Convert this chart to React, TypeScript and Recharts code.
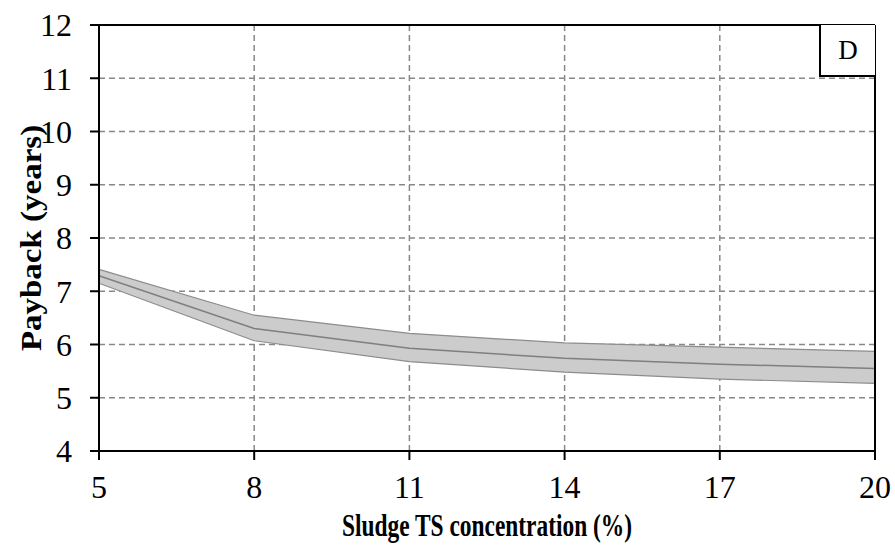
import React from "react";
import { ComposedChart, Area, Line, XAxis, YAxis, CartesianGrid, ReferenceLine } from "recharts";

// Payback vs sludge TS concentration, mean line with a shaded uncertainty band.
const tsConcentration = [5, 8, 11, 14, 17, 20];
const paybackMid = [7.29, 6.3, 5.93, 5.74, 5.63, 5.55];
const paybackLow = [7.15, 6.07, 5.68, 5.48, 5.35, 5.27];
const paybackHigh = [7.41, 6.55, 6.21, 6.03, 5.95, 5.87];
const xTicks = [5, 8, 11, 14, 17, 20];
const yTicks = [4, 5, 6, 7, 8, 9, 10, 11, 12];

const data = tsConcentration.map((x, i) => ({
  x,
  mid: paybackMid[i],
  band: [paybackLow[i], paybackHigh[i]],
}));

const FONT = "'Liberation Serif', 'Times New Roman', serif";
const tickStyle = { fill: "#000", fontSize: 32, fontFamily: FONT };

// the source image is stretched vertically, so the titles get a non-uniform scale
function YLabel(props: any) {
  const vb = props.viewBox || {};
  const cx = vb.x + 41;
  const cy = vb.y + vb.height / 2;
  return (
    <text
      transform={`translate(${cx} ${cy}) rotate(-90) scale(1.1 1)`}
      x={0}
      y={0}
      textAnchor="middle"
      fontFamily={FONT}
      fontWeight="bold"
      fontSize={30}
      fill="#000"
    >
      Payback (years)
    </text>
  );
}

function XLabel(props: any) {
  const vb = props.viewBox || {};
  const cx = vb.x + vb.width / 2;
  return (
    <text
      transform={`translate(${cx} ${vb.y + 85}) scale(0.9 1.22)`}
      x={0}
      y={0}
      textAnchor="middle"
      fontFamily={FONT}
      fontWeight="bold"
      fontSize={26}
      fill="#000"
    >
      Sludge TS concentration (%)
    </text>
  );
}

export default function App() {
  return (
    <div style={{ position: "absolute", left: 0, top: 0, width: 895, height: 545, background: "#fff" }}>
      <ComposedChart width={895} height={545} data={data} margin={{ top: 25, right: 20, bottom: 0, left: 0 }}>
        <CartesianGrid xAxisId="b" yAxisId="l" stroke="#888" strokeWidth={1.5} strokeDasharray="6 4" />
        <XAxis
          xAxisId="b"
          dataKey="x"
          type="number"
          domain={[5, 20]}
          ticks={xTicks}
          height={94}
          tickSize={9}
          tickMargin={15}
          tick={tickStyle}
          axisLine={{ stroke: "#000", strokeWidth: 2 }}
          tickLine={{ stroke: "#000", strokeWidth: 2 }}
          label={<XLabel />}
        />
        <YAxis
          yAxisId="l"
          type="number"
          domain={[4, 12]}
          ticks={yTicks}
          width={99}
          tickSize={9}
          tickMargin={18}
          tick={tickStyle}
          axisLine={{ stroke: "#000", strokeWidth: 2 }}
          tickLine={{ stroke: "#000", strokeWidth: 2 }}
          label={<YLabel />}
        />
        <Area
          xAxisId="b"
          yAxisId="l"
          dataKey="band"
          type="linear"
          fill="#cccccc"
          fillOpacity={1}
          stroke="#8c8c8c"
          strokeWidth={1.2}
          isAnimationActive={false}
          activeDot={false}
          dot={false}
        />
        <Line
          xAxisId="b"
          yAxisId="l"
          dataKey="mid"
          type="linear"
          stroke="#7f7f7f"
          strokeWidth={1.5}
          dot={false}
          activeDot={false}
          isAnimationActive={false}
        />
        <ReferenceLine xAxisId="b" yAxisId="l" y={12} stroke="#000" strokeWidth={2} />
        <ReferenceLine xAxisId="b" yAxisId="l" x={20} stroke="#000" strokeWidth={2} />
      </ComposedChart>
      <div
        style={{
          position: "absolute",
          left: 819,
          top: 25,
          width: 56,
          height: 52,
          boxSizing: "border-box",
          border: "2px solid #000",
          borderTop: "none",
          borderRight: "none",
          background: "#fff",
          display: "flex",
          alignItems: "center",
          justifyContent: "center",
          fontFamily: FONT,
          fontSize: 27,
        }}
      >
        D
      </div>
    </div>
  );
}
